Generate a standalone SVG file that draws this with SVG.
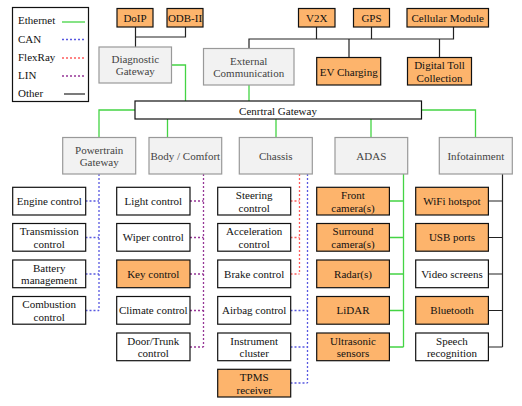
<svg xmlns="http://www.w3.org/2000/svg" width="522" height="406" viewBox="0 0 522 406" font-family="Liberation Serif, serif" font-size="11">
<style>
text{fill:#111;text-anchor:middle;dominant-baseline:central}
.leaf{fill:#fff;stroke:#111;stroke-width:1.2}
.org{fill:#FDB46C;stroke:#111;stroke-width:1.2}
.gw{fill:#f2f2f2;stroke:#999;stroke-width:1.2}
.gwt{fill:#444}
.eth{stroke:#44d444;stroke-width:1.3;fill:none}
.can{stroke:#5858e0;stroke-width:1.3;stroke-dasharray:2 2;fill:none}
.fr{stroke:#ff5c5c;stroke-width:1.3;stroke-dasharray:2 2;fill:none}
.lin{stroke:#963696;stroke-width:1.3;stroke-dasharray:2 2;fill:none}
.oth{stroke:#222;stroke-width:1.2;fill:none}
</style>
<rect width="522" height="406" fill="#fff"/>
<g id="legend">
<rect x="12.5" y="7.5" width="76" height="94" fill="#fff" stroke="#111" stroke-width="1.2"/>
<text x="18" y="20" style="text-anchor:start">Ethernet</text>
<text x="18" y="38.5" style="text-anchor:start">CAN</text>
<text x="18" y="57" style="text-anchor:start">FlexRay</text>
<text x="18" y="75" style="text-anchor:start">LIN</text>
<text x="18" y="93" style="text-anchor:start">Other</text>
<line x1="62" y1="22" x2="85" y2="22" class="eth"/>
<line x1="62" y1="39.5" x2="85" y2="39.5" class="can"/>
<line x1="62" y1="58" x2="85" y2="58" class="fr"/>
<line x1="62" y1="76" x2="85" y2="76" class="lin"/>
<line x1="64" y1="94" x2="85" y2="94" class="oth"/>
</g>
<g id="connectors">
<path class="oth" d="M135.5 27V47M135.5 37H185.5V27"/>
<path class="oth" d="M249 48V39H453.5V27M316.5 39V27M371.5 39V27M349 39V57.5M439.5 39V57.5"/>
<path class="eth" d="M171.5 65H185.5V101M249 85V101"/>
<path class="eth" d="M135 110H99V137.5M167.5 119V137.5M276 119V137.5M371 119V137.5M421.5 110H475.5V137.5"/>
<path class="can" d="M99 174V310.5M85.5 201H99M85.5 237.5H99M85.5 274H99M85.5 310.5H99"/>
<path class="lin" d="M203.5 174V347M190 201H203.5M190 237.5H203.5M190 274H203.5M190 310.5H203.5M190 347H203.5"/>
<path class="fr" d="M299.5 174V274M290.5 201H299.5M290.5 237.5H299.5M290.5 274H299.5"/>
<path class="can" d="M307.5 174V383M290.5 310.5H307.5M290.5 347H307.5M290.5 383H307.5"/>
<path class="eth" d="M403.5 174V347M389.5 201H403.5M389.5 237.5H403.5M389.5 274H403.5M389.5 310.5H403.5M389.5 347H403.5"/>
<path class="oth" d="M502.5 174V347M488.5 201H502.5M488.5 237.5H502.5M488.5 274H502.5M488.5 310.5H502.5M488.5 347H502.5"/>
</g>
<g id="doip"><rect class="org" x="117" y="8.5" width="36" height="18.5"/><text x="135" y="18">DoIP</text></g>
<g id="odb"><rect class="org" x="167" y="8.5" width="36" height="18.5"/><text x="185" y="18">ODB-II</text></g>
<g id="v2x"><rect class="org" x="298.5" y="8.5" width="36.5" height="18.5"/><text x="316.7" y="18">V2X</text></g>
<g id="gps"><rect class="org" x="353.5" y="8.5" width="36" height="18.5"/><text x="371.5" y="18">GPS</text></g>
<g id="cellular"><rect class="org" x="407" y="8.5" width="81.5" height="18.5"/><text x="447.7" y="18">Cellular Module</text></g>
<g id="diag"><rect class="gw" x="99" y="47" width="72.5" height="36"/><text class="gwt" x="135.3" y="58.7">Diagnostic</text><text class="gwt" x="135.3" y="71.3">Gateway</text></g>
<g id="ext"><rect class="gw" x="203.5" y="48.5" width="90.5" height="36.5"/><text class="gwt" x="248.7" y="60.5">External</text><text class="gwt" x="248.7" y="73">Communication</text></g>
<g id="ev"><rect class="org" x="316.7" y="57.5" width="64" height="27.5"/><text x="348.7" y="71.5">EV Charging</text></g>
<g id="toll"><rect class="org" x="407.5" y="57.5" width="64" height="27.5"/><text x="439.5" y="65">Digital Toll</text><text x="439.5" y="77.5">Collection</text></g>
<g id="central"><rect x="135" y="101" width="286.5" height="18" fill="#fff" stroke="#111" stroke-width="1.2"/><text x="278" y="110.5">Cenrtral Gateway</text></g>
<g id="powertrain"><rect class="gw" x="62.7" y="137.5" width="73" height="36.5"/><text class="gwt" x="99.2" y="149.5">Powertrain</text><text class="gwt" x="99.2" y="162.2">Gateway</text></g>
<g id="body"><rect class="gw" x="149" y="137.5" width="72.7" height="36.5"/><text class="gwt" x="185.3" y="156">Body / Comfort</text></g>
<g id="chassis"><rect class="gw" x="239.3" y="137.5" width="73" height="36.5"/><text class="gwt" x="275.8" y="156">Chassis</text></g>
<g id="adas"><rect class="gw" x="335" y="137.5" width="72.7" height="36.5"/><text class="gwt" x="371.3" y="156">ADAS</text></g>
<g id="infotainment"><rect class="gw" x="439.3" y="137.5" width="73" height="36.5"/><text class="gwt" x="475.8" y="156">Infotainment</text></g>
<g id="engine"><rect class="leaf" x="12.7" y="187.3" width="73" height="27.7"/><text x="49.2" y="201.2">Engine control</text></g>
<g id="transmission"><rect class="leaf" x="12.7" y="223.5" width="73" height="27.7"/><text x="49.2" y="231.3">Transmission</text><text x="49.2" y="243.8">control</text></g>
<g id="battery"><rect class="leaf" x="12.7" y="260" width="73" height="27.7"/><text x="49.2" y="267.8">Battery</text><text x="49.2" y="280.3">management</text></g>
<g id="combustion"><rect class="leaf" x="12.7" y="296.5" width="73" height="27.7"/><text x="49.2" y="304.3">Combustion</text><text x="49.2" y="316.8">control</text></g>
<g id="light"><rect class="leaf" x="116.7" y="187.3" width="73.3" height="27.7"/><text x="153.3" y="201.2">Light control</text></g>
<g id="wiper"><rect class="leaf" x="116.7" y="223.5" width="73.3" height="27.7"/><text x="153.3" y="237.4">Wiper control</text></g>
<g id="key"><rect class="org" x="116.7" y="260" width="73.3" height="27.7"/><text x="153.3" y="273.9">Key control</text></g>
<g id="climate"><rect class="leaf" x="116.7" y="296.5" width="73.3" height="27.7"/><text x="153.3" y="310.4">Climate control</text></g>
<g id="door"><rect class="leaf" x="116.7" y="333" width="73.3" height="27.7"/><text x="153.3" y="340.8">Door/Trunk</text><text x="153.3" y="353.3">control</text></g>
<g id="steering"><rect class="leaf" x="217.7" y="187.3" width="73" height="27.7"/><text x="254.2" y="195.1">Steering</text><text x="254.2" y="207.6">control</text></g>
<g id="accel"><rect class="leaf" x="217.7" y="223.5" width="73" height="27.7"/><text x="254.2" y="231.3">Acceleration</text><text x="254.2" y="243.8">control</text></g>
<g id="brake"><rect class="leaf" x="217.7" y="260" width="73" height="27.7"/><text x="254.2" y="273.9">Brake control</text></g>
<g id="airbag"><rect class="leaf" x="217.7" y="296.5" width="73" height="27.7"/><text x="254.2" y="310.4">Airbag control</text></g>
<g id="instrument"><rect class="leaf" x="217.7" y="333" width="73" height="27.7"/><text x="254.2" y="340.8">Instrument</text><text x="254.2" y="353.3">cluster</text></g>
<g id="tpms"><rect class="org" x="217.7" y="369.3" width="73" height="27.7"/><text x="254.2" y="377.1">TPMS</text><text x="254.2" y="389.6">receiver</text></g>
<g id="front"><rect class="org" x="316.7" y="187.3" width="72.7" height="27.7"/><text x="353" y="195.1">Front</text><text x="353" y="207.6">camera(s)</text></g>
<g id="surround"><rect class="org" x="316.7" y="223.5" width="72.7" height="27.7"/><text x="353" y="231.3">Surround</text><text x="353" y="243.8">camera(s)</text></g>
<g id="radar"><rect class="org" x="316.7" y="260" width="72.7" height="27.7"/><text x="353" y="273.9">Radar(s)</text></g>
<g id="lidar"><rect class="org" x="316.7" y="296.5" width="72.7" height="27.7"/><text x="353" y="310.4">LiDAR</text></g>
<g id="ultrasonic"><rect class="org" x="316.7" y="333" width="72.7" height="27.7"/><text x="353" y="340.8">Ultrasonic</text><text x="353" y="353.3">sensors</text></g>
<g id="wifi"><rect class="org" x="415.7" y="187.3" width="72.7" height="27.7"/><text x="452" y="201.2">WiFi hotspot</text></g>
<g id="usb"><rect class="org" x="415.7" y="223.5" width="72.7" height="27.7"/><text x="452" y="237.4">USB ports</text></g>
<g id="video"><rect class="leaf" x="415.7" y="260" width="72.7" height="27.7"/><text x="452" y="273.9">Video screens</text></g>
<g id="bluetooth"><rect class="org" x="415.7" y="296.5" width="72.7" height="27.7"/><text x="452" y="310.4">Bluetooth</text></g>
<g id="speech"><rect class="leaf" x="415.7" y="333" width="72.7" height="27.7"/><text x="452" y="340.8">Speech</text><text x="452" y="353.3">recognition</text></g>
</svg>
